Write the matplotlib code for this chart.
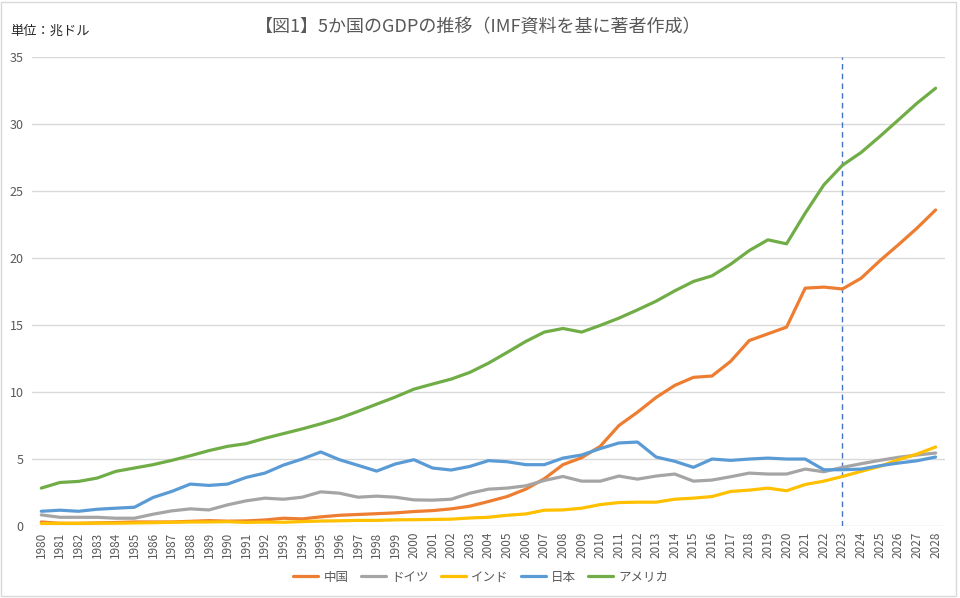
import matplotlib
matplotlib.use("Agg")
import matplotlib.pyplot as plt
from matplotlib.patches import Rectangle

plt.rcParams['font.family'] = ['Noto Sans CJK JP', 'DejaVu Sans']

years = [str(y) for y in range(1980, 2029)]

china = [0.30, 0.20, 0.20, 0.23, 0.26, 0.30, 0.30, 0.30, 0.35, 0.40,
         0.36, 0.38, 0.45, 0.58, 0.53, 0.68, 0.80, 0.86, 0.92, 0.98,
         1.08, 1.15, 1.28, 1.48, 1.83, 2.20, 2.75, 3.53, 4.58, 5.10,
         5.95, 7.50, 8.50, 9.60, 10.50, 11.10, 11.20, 12.30, 13.85, 14.35,
         14.85, 17.76, 17.84, 17.70, 18.50, 19.80, 21.00, 22.24, 23.60]
germany = [0.83, 0.65, 0.65, 0.65, 0.58, 0.58, 0.88, 1.13, 1.28, 1.20,
           1.58, 1.88, 2.08, 2.00, 2.15, 2.55, 2.45, 2.15, 2.23, 2.15,
           1.95, 1.93, 2.00, 2.45, 2.75, 2.83, 3.00, 3.40, 3.70, 3.35,
           3.35, 3.73, 3.50, 3.73, 3.88, 3.35, 3.43, 3.68, 3.95, 3.88,
           3.88, 4.25, 4.05, 4.38, 4.65, 4.90, 5.13, 5.30, 5.45]
india = [0.19, 0.20, 0.20, 0.22, 0.21, 0.23, 0.25, 0.28, 0.30, 0.30,
         0.32, 0.27, 0.29, 0.28, 0.33, 0.37, 0.39, 0.42, 0.42, 0.46,
         0.47, 0.49, 0.51, 0.60, 0.65, 0.80, 0.90, 1.18, 1.20, 1.33,
         1.60, 1.75, 1.78, 1.78, 2.00, 2.08, 2.20, 2.58, 2.68, 2.83,
         2.63, 3.10, 3.35, 3.70, 4.08, 4.45, 4.95, 5.37, 5.90]
japan = [1.10, 1.18, 1.10, 1.25, 1.33, 1.40, 2.13, 2.58, 3.13, 3.03,
         3.13, 3.63, 3.95, 4.55, 5.00, 5.53, 4.95, 4.53, 4.10, 4.63,
         4.95, 4.33, 4.18, 4.45, 4.88, 4.80, 4.58, 4.58, 5.07, 5.30,
         5.78, 6.20, 6.27, 5.15, 4.83, 4.38, 5.00, 4.90, 5.00, 5.07,
         5.00, 5.00, 4.20, 4.20, 4.25, 4.50, 4.70, 4.87, 5.15]
usa = [2.83, 3.25, 3.33, 3.58, 4.08, 4.33, 4.58, 4.90, 5.25, 5.63,
       5.95, 6.15, 6.55, 6.90, 7.25, 7.63, 8.05, 8.56, 9.10, 9.63,
       10.22, 10.60, 10.97, 11.47, 12.16, 12.96, 13.78, 14.48, 14.75, 14.48,
       14.98, 15.52, 16.14, 16.79, 17.56, 18.26, 18.68, 19.55, 20.57, 21.37,
       21.07, 23.36, 25.47, 26.94, 27.89, 29.08, 30.32, 31.57, 32.69]

series_names = ['中国', 'ドイツ', 'インド', '日本', 'アメリカ']
series_values = [china, germany, india, japan, usa]
colors = ['#ED7D31', '#A5A5A5', '#FFC000', '#5B9BD5', '#70AD47']
yticks = [0, 5, 10, 15, 20, 25, 30, 35]
marker_year = '2023'

title = '【図1】5か国のGDPの推移（IMF資料を基に著者作成）'
unit_label = '単位：兆ドル'

fig = plt.figure(figsize=(9.6, 5.98), dpi=100)
ax = fig.add_axes([0.0333, 0.1204, 0.9510, 0.7838])

x = list(range(len(years)))
for name, vals, c in zip(series_names, series_values, colors):
    ax.plot(x, vals, color=c, lw=2.3, label=name, solid_capstyle='round',
            solid_joinstyle='round')

ax.axvline(years.index(marker_year), color='#4472C4', lw=1.0,
           dashes=(4, 3), zorder=1)

ax.set_xlim(-0.5, len(years) - 0.5)
ax.set_ylim(0, 35)
ax.set_yticks(yticks)
ax.set_yticklabels([str(v) for v in yticks])
ax.set_xticks(x)
ax.set_xticklabels(years, rotation=90)
ax.grid(axis='y', color='#D9D9D9', lw=1)
ax.set_axisbelow(True)
for s in ax.spines.values():
    s.set_visible(False)
ax.tick_params(axis='both', length=0, colors='#595959', labelsize=8.5)
ax.tick_params(axis='y', pad=6, labelsize=9)
ax.tick_params(axis='x', pad=4)

fig.text(0.498, 0.955, title, ha='center', va='center', fontsize=13,
         color='#595959')
fig.text(0.011, 0.948, unit_label, ha='left', va='center', fontsize=9.5,
         color='#262626')

leg = fig.legend(loc='center', bbox_to_anchor=(0.501, 0.035), ncol=5,
                 frameon=False, fontsize=9, handlelength=2.0,
                 columnspacing=1.0, handletextpad=0.4)
for t in leg.get_texts():
    t.set_color('#595959')

fig.patches.append(Rectangle((0.001, 0.003), 0.995, 0.994,
                             transform=fig.transFigure, fill=False,
                             edgecolor='#D9D9D9', lw=1))

fig.savefig('out.png', dpi=100, facecolor='white')
